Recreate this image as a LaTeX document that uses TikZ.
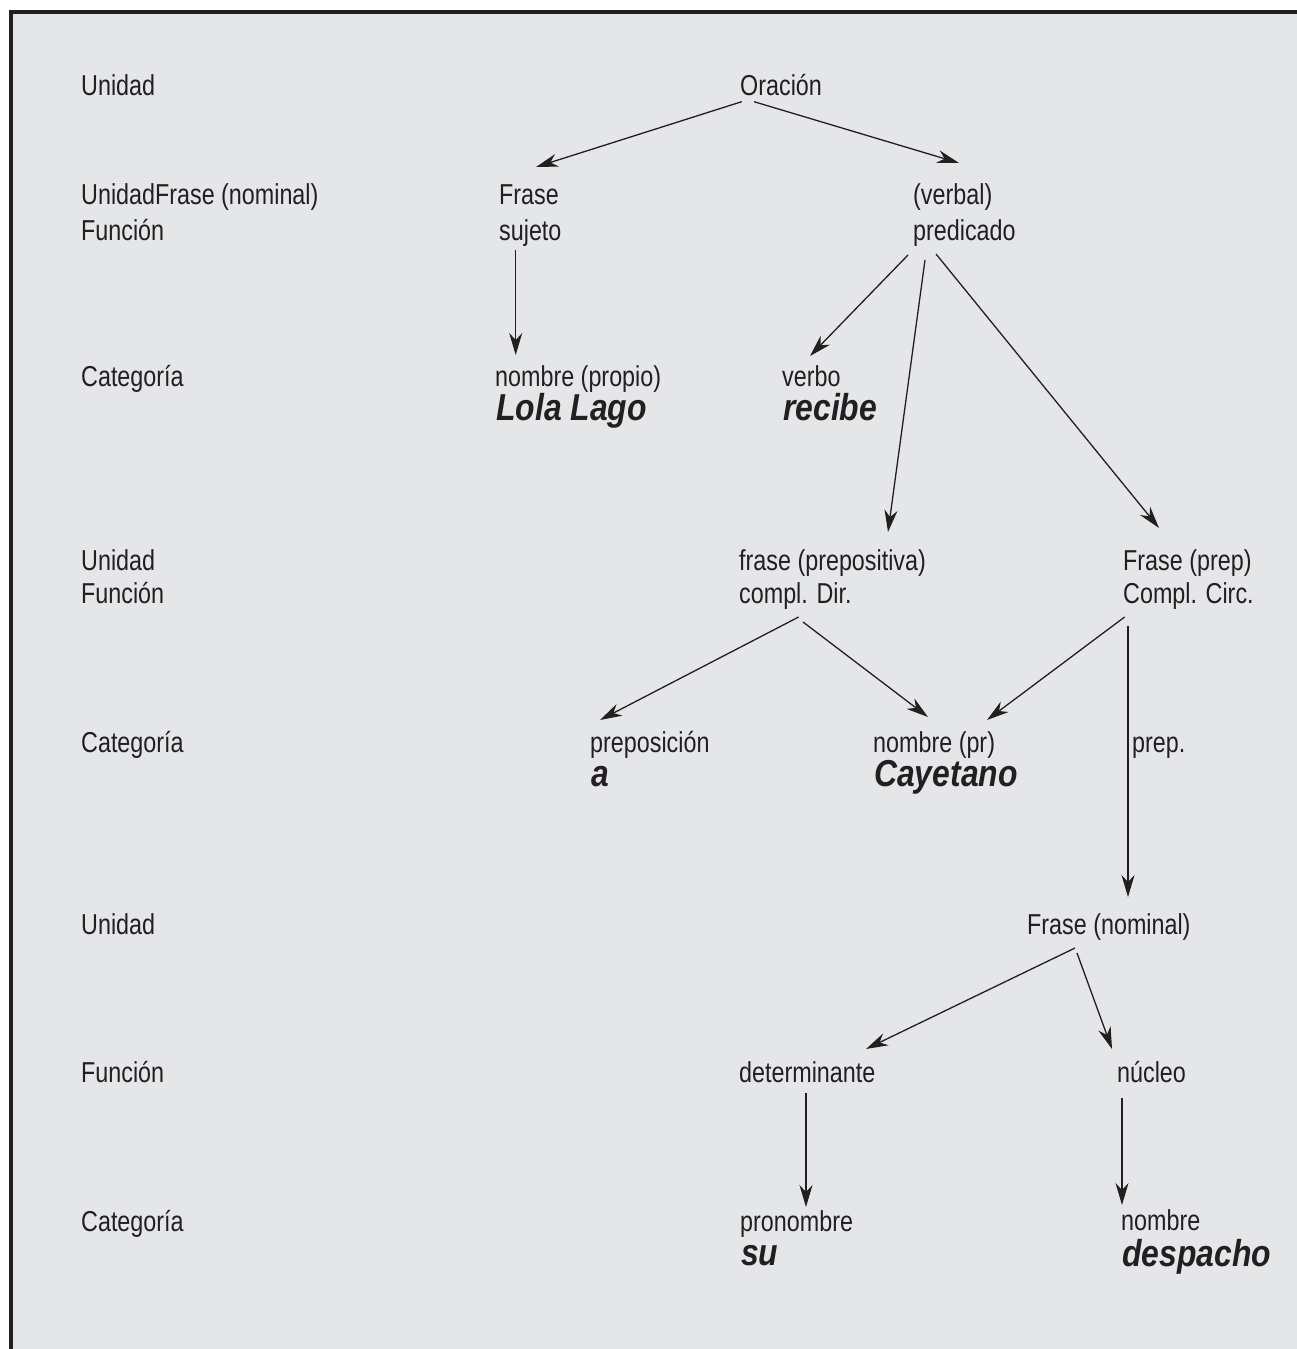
\documentclass[tikz,border=0pt]{standalone}
\usepackage{fontspec}
\setmainfont{Liberation Sans}[FakeStretch=0.81]
\newfontfamily\bifont{Liberation Sans}[FakeStretch=0.85]
\usetikzlibrary{arrows.meta,calc}
\definecolor{txt}{HTML}{231F20}
\definecolor{panel}{HTML}{E5E6E8}
\tikzset{
  lbl/.style={anchor=base west, inner sep=0pt, text=txt, font=\fontsize{28.8}{34}\selectfont},
  word/.style={anchor=base west, inner sep=0pt, text=txt, font=\bifont\bfseries\itshape\fontsize{37.5}{40}\selectfont},
  arr/.style={line width=1.3pt, draw=txt, -{Stealth[length=22pt,width=13pt,inset=7pt]}}
}
\begin{document}
\begin{tikzpicture}[x=1pt,y=-1pt]
\useasboundingbox (0,0) rectangle (1297,1349);
\fill[white] (0,0) rectangle (1297,1349);
\fill[panel] (11,12) rectangle (1297,1349);
\draw[txt, line width=4pt] (11,1349) -- (11,12) -- (1297,12);

% left labels
\node[lbl] (l1) at (81,95) {Unidad};
\node[lbl] (l2) at (81,204) {UnidadFrase (nominal)};
\node[lbl] (l3) at (81,240) {Función};
\node[lbl] (l4) at (81,386) {Categoría};
\node[lbl] (l5) at (81,570) {Unidad};
\node[lbl] (l6) at (81,603) {Función};
\node[lbl] (l7) at (81,752) {Categoría};
\node[lbl] (l8) at (81,934) {Unidad};
\node[lbl] (l9) at (81,1082) {Función};
\node[lbl] (l10) at (81,1231) {Categoría};

% tree
\node[lbl] (oracion) at (740,95) {Oración};
\node[lbl] (frase) at (499,204) {Frase};
\node[lbl] (sujeto) at (499,240) {sujeto};
\node[lbl] (verbal) at (913,204) {(verbal)};
\node[lbl] (predicado) at (913,240) {predicado};
\node[lbl] (nprop) at (495,386) {nombre (propio)};
\node[word] (lola) at (496,420) {Lola Lago};
\node[lbl] (verbo) at (782,386) {verbo};
\node[word] (recibe) at (783,420) {recibe};
\node[lbl] (fprep) at (739,570) {frase (prepositiva)};
\node[lbl] (cdir) at (739,603) {compl. Dir.};
\node[lbl] (Fprep) at (1123,570) {Frase (prep)};
\node[lbl] (ccirc) at (1123,603) {Compl. Circ.};
\node[lbl] (prepos) at (590,752) {preposición};
\node[word] (a) at (591,786) {a};
\node[lbl] (npr) at (873,752) {nombre (pr)};
\node[word] (cay) at (874,786) {Cayetano};
\node[lbl] (prepl) at (1132,752) {prep.};
\node[lbl] (fnom) at (1027,934) {Frase (nominal)};
\node[lbl] (det) at (739,1082) {determinante};
\node[lbl] (nucleo) at (1117,1082) {núcleo};
\node[lbl] (pron) at (740,1231) {pronombre};
\node[word] (su) at (741,1265) {su};
\node[lbl] (nombre) at (1121,1230) {nombre};
\node[word] (despacho) at (1122,1266) {despacho};

% connectors
\draw[arr] ($(oracion.base west)+(1.7,6.7)$) -- ($(frase.base west)+(37,-37)$);
\draw[arr] ($(oracion.base west)+(14,6.7)$) -- ($(verbal.base west)+(46,-41)$);
\draw[arr] ($(sujeto.base west)+(16.7,10)$) -- ($(nprop.base west)+(20.7,-31)$);
\draw[arr] ($(predicado.base west)+(-5,15)$) -- ($(verbo.base west)+(28,-30)$);
\draw[arr] ($(predicado.base west)+(12,20)$) -- ($(fprep.base west)+(149,-38)$);
\draw[arr] ($(predicado.base west)+(23,14)$) -- ($(Fprep.base west)+(36,-42)$);
\draw[arr] ($(cdir.base west)+(59.6,14)$) -- ($(prepos.base west)+(10,-32)$);
\draw[arr] ($(cdir.base west)+(64,19)$) -- ($(npr.base west)+(55,-35)$);
\draw[arr] ($(ccirc.base west)+(1.6,14)$) -- ($(npr.base west)+(114,-32)$);
\draw[arr] ($(ccirc.base west)+(5,23)$) -- ($(fnom.base west)+(101,-37)$);
\draw[arr] ($(fnom.base west)+(48,14)$) -- ($(det.base west)+(127,-33)$);
\draw[arr] ($(fnom.base west)+(50,19)$) -- ($(nucleo.base west)+(-5,-33)$);
\draw[arr] ($(det.base west)+(67,11)$) -- ($(pron.base west)+(66,-24)$);
\draw[arr] ($(nucleo.base west)+(5,16)$) -- ($(nombre.base west)+(1,-25)$);
\end{tikzpicture}
\end{document}
